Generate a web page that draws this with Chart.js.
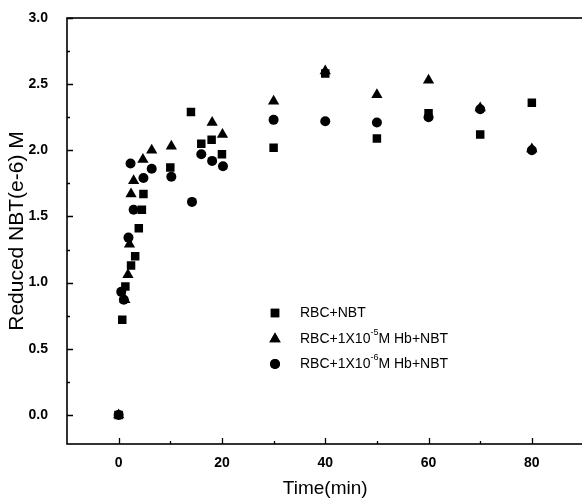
<!DOCTYPE html>
<html>
<head>
<meta charset="utf-8">
<script src="https://cdn.jsdelivr.net/npm/chart.js@4"></script>
<style>
  html, body { margin: 0; padding: 0; background: #fff; overflow: hidden; }
  #wrap { width: 590px; height: 500px; }
</style>
</head>
<body>
<div id="wrap"><canvas id="myChart" width="590" height="500"></canvas></div>
<script>
// Get the canvas element
const ctx = document.getElementById("myChart").getContext("2d");

// RBC+NBT (squares)
const rbcTime = [0, 0.7, 1.3, 2.4, 3.2, 3.9, 4.5, 4.8, 10, 14, 16, 18, 20, 30, 40, 50, 60, 70, 80];
const rbcNbt = [0, 0.72, 0.97, 1.13, 1.2, 1.41, 1.55, 1.67, 1.87, 2.29, 2.05, 2.08, 1.97, 2.02, 2.58, 2.09, 2.28, 2.12, 2.36];

// RBC+1X10^-5M Hb+NBT (triangles)
const hb5Time = [0, 1.2, 1.8, 2.1, 2.4, 2.9, 4.7, 6.4, 10.2, 18.1, 20.1, 30, 40, 50, 60, 70, 80];
const hb5Nbt = [0, 0.87, 1.06, 1.29, 1.67, 1.77, 1.93, 2.0, 2.03, 2.21, 2.12, 2.37, 2.6, 2.42, 2.53, 2.32, 2.01];

// RBC+1X10^-6M Hb+NBT (circles)
const hb6Time = [0, 0.5, 1.0, 1.9, 2.3, 2.9, 4.8, 6.4, 10.2, 14.2, 16, 18.1, 20.2, 30, 40, 50, 60, 70, 80];
const hb6Nbt = [0, 0.93, 0.87, 1.34, 1.9, 1.55, 1.79, 1.86, 1.8, 1.61, 1.97, 1.92, 1.88, 2.23, 2.22, 2.21, 2.25, 2.31, 2.0];

const seriesLabels = ["RBC+NBT", "RBC+1X10^-5M Hb+NBT", "RBC+1X10^-6M Hb+NBT"];

const xTicks = [0, 20, 40, 60, 80];
const xMinor = [10, 30, 50, 70];
const yTicks = [0, 0.5, 1.0, 1.5, 2.0, 2.5, 3.0];
const yMinor = [0.25, 0.75, 1.25, 1.75, 2.25, 2.75];

const toPoints = (xs, ys) => xs.map((x, i) => ({ x: x, y: ys[i] }));

// frame + inward ticks like the original plot
const frameTicks = {
  id: "frameTicks",
  afterDraw(chart) {
    const c = chart.ctx;
    const a = chart.chartArea;
    const xs = chart.scales.x;
    const ys = chart.scales.y;
    c.save();
    c.strokeStyle = "#000";
    c.lineWidth = 1.6;
    c.strokeRect(a.left, a.top, a.right - a.left, a.bottom - a.top);
    c.lineWidth = 1.3;
    c.beginPath();
    xTicks.concat(xMinor).forEach((v) => {
      const len = xTicks.includes(v) ? 6 : 3;
      const px = Math.round(xs.getPixelForValue(v)) + 0.5;
      c.moveTo(px, a.bottom);
      c.lineTo(px, a.bottom - len);
    });
    yTicks.concat(yMinor).forEach((v) => {
      const len = yTicks.includes(v) ? 6 : 3;
      const py = Math.round(ys.getPixelForValue(v)) + 0.5;
      c.moveTo(a.left, py);
      c.lineTo(a.left + len, py);
    });
    c.stroke();
    c.restore();
  },
};

// legend drawn inside the plot, with superscripts
const innerLegend = {
  id: "innerLegend",
  afterDraw(chart) {
    const c = chart.ctx;
    const rows = [313, 339, 364];
    c.save();
    c.fillStyle = "#000";
    c.textBaseline = "middle";
    chart.data.datasets.forEach((ds, i) => {
      const y = rows[i];
      Chart.helpers.drawPoint(c, {
        pointStyle: ds.pointStyle,
        radius: ds.pointRadius,
        rotation: 0,
        borderWidth: 0,
      }, 275, y);
      c.fill();
      let x = 300;
      const parts = seriesLabels[i].split(/\^(-\d)/);
      parts.forEach((p, k) => {
        if (k % 2 === 1) {
          c.font = "9px Arial";
          c.fillText(p, x, y - 6);
          x += c.measureText(p).width;
        } else {
          c.font = "14px Arial";
          c.fillText(p, x, y);
          x += c.measureText(p).width;
        }
      });
    });
    c.restore();
  },
};

new Chart(ctx, {
  type: "scatter",
  data: {
    datasets: [
      {
        label: seriesLabels[0],
        data: toPoints(rbcTime, rbcNbt),
        pointStyle: "rect",
        pointRadius: 6,
        backgroundColor: "#000",
        borderColor: "#000",
        borderWidth: 0,
      },
      {
        label: seriesLabels[1],
        data: toPoints(hb5Time, hb5Nbt),
        pointStyle: "triangle",
        pointRadius: 6.5,
        backgroundColor: "#000",
        borderColor: "#000",
        borderWidth: 0,
      },
      {
        label: seriesLabels[2],
        data: toPoints(hb6Time, hb6Nbt),
        pointStyle: "circle",
        pointRadius: 5,
        backgroundColor: "#000",
        borderColor: "#000",
        borderWidth: 0,
      },
    ],
  },
  options: {
    responsive: false,
    animation: false,
    layout: { padding: { top: 18, right: 6, left: 0, bottom: 0 } },
    plugins: {
      legend: { display: false },
      tooltip: { enabled: false },
    },
    scales: {
      x: {
        type: "linear",
        min: -10,
        max: 90,
        afterBuildTicks: (s) => { s.ticks = xTicks.map((v) => ({ value: v })); },
        afterFit: (s) => { s.height = 56; },
        grid: { display: false, drawTicks: false },
        border: { display: false },
        ticks: { color: "#000", padding: 11, font: { family: "Arial", size: 14, weight: "bold" } },
        title: {
          display: true,
          text: "Time(min)",
          color: "#000",
          font: { family: "Arial", size: 19 },
          padding: { top: 0, bottom: 0 },
        },
      },
      y: {
        min: -0.22,
        max: 3.0,
        afterBuildTicks: (s) => { s.ticks = yTicks.map((v) => ({ value: v })); },
        afterFit: (s) => { s.width = 67; s.paddingTop = 0; s.paddingBottom = 0; },
        grid: { display: false, drawTicks: false },
        border: { display: false },
        ticks: {
          color: "#000",
          padding: 19,
          font: { family: "Arial", size: 14, weight: "bold" },
          callback: (v) => Number(v).toFixed(1),
        },
        title: {
          display: true,
          text: "Reduced NBT(e-6) M",
          color: "#000",
          font: { family: "Arial", size: 21 },
          padding: { top: 5, bottom: 0 },
        },
      },
    },
  },
  plugins: [frameTicks, innerLegend],
});
</script>
</body>
</html>
